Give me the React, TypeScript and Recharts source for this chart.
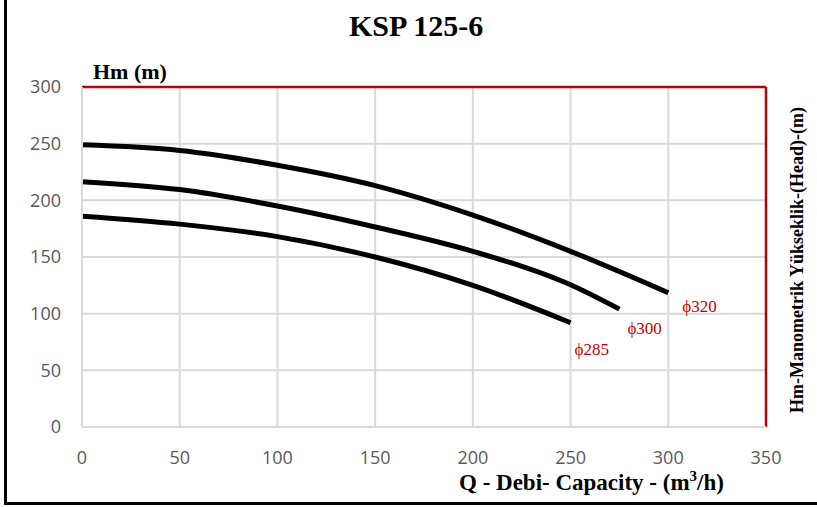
import {
  CartesianGrid,
  Line,
  LineChart,
  ReferenceLine,
  XAxis,
  YAxis,
} from "recharts";

const Q_TICKS = [0, 50, 100, 150, 200, 250, 300, 350];
const H_TICKS = [0, 50, 100, 150, 200, 250, 300];

const CURVE_320 = [
  { q: 0, h: 249 },
  { q: 50, h: 244 },
  { q: 100, h: 231 },
  { q: 150, h: 213 },
  { q: 200, h: 187 },
  { q: 250, h: 155 },
  { q: 300, h: 118.5 },
];
const CURVE_300 = [
  { q: 0, h: 216.5 },
  { q: 50, h: 209.5 },
  { q: 100, h: 195 },
  { q: 150, h: 176.5 },
  { q: 200, h: 155 },
  { q: 250, h: 125.5 },
  { q: 275, h: 104 },
];
const CURVE_285 = [
  { q: 0, h: 186 },
  { q: 50, h: 179 },
  { q: 100, h: 168 },
  { q: 150, h: 150 },
  { q: 200, h: 125 },
  { q: 250, h: 92 },
];

const SERIES = [
  { name: "ϕ320", data: CURVE_320, dx: 14, dy: 19 },
  { name: "ϕ300", data: CURVE_300, dx: 8, dy: 25 },
  { name: "ϕ285", data: CURVE_285, dx: 4, dy: 32 },
];

const RED = "#c00000";
const GRID = "#d9d9d9";
const TICK = { fontSize: 18, fill: "#595959", fontFamily: "Open Sans, sans-serif" };
const SERIF = "'Liberation Serif', 'Times New Roman', serif";

function endLabel(name: string, count: number, dx: number, dy: number) {
  return (props: any) => {
    if (props.index !== count - 1) return null;
    return (
      <text x={props.x + dx} y={props.y + dy} fill={RED} fontSize={17} fontFamily={SERIF}>
        {name}
      </text>
    );
  };
}

export default function App() {
  return (
    <div style={{ position: "fixed", left: 0, top: 0, width: 817, height: 507, background: "#fff" }}>
      <LineChart width={817} height={507} margin={{ top: 87, right: 51, bottom: 40, left: 22 }}>
        <CartesianGrid stroke={GRID} strokeWidth={2} />
        <XAxis
          type="number"
          dataKey="q"
          domain={[0, 350]}
          ticks={Q_TICKS}
          allowDataOverflow
          tick={TICK}
          tickLine={false}
          axisLine={{ stroke: GRID, strokeWidth: 2 }}
          tickMargin={18}
          height={40}
        />
        <YAxis
          type="number"
          dataKey="h"
          domain={[0, 300]}
          ticks={H_TICKS}
          allowDataOverflow
          tick={TICK}
          tickLine={false}
          axisLine={{ stroke: GRID, strokeWidth: 2 }}
          tickMargin={15}
          width={60}
        />
        <ReferenceLine y={300} stroke={RED} strokeWidth={2.5} />
        <ReferenceLine x={350} stroke={RED} strokeWidth={2.5} />
        {SERIES.map((s) => (
          <Line
            key={s.name}
            data={s.data}
            dataKey="h"
            type="monotone"
            stroke="#000"
            strokeWidth={5}
            dot={false}
            isAnimationActive={false}
            label={endLabel(s.name, s.data.length, s.dx, s.dy)}
          />
        ))}
      </LineChart>
      <div
        style={{
          position: "absolute",
          left: 349,
          top: 9,
          fontFamily: SERIF,
          fontWeight: "bold",
          fontSize: 30,
          whiteSpace: "nowrap",
        }}
      >
        KSP 125-6
      </div>
      <div
        style={{ position: "absolute", left: 93, top: 59, fontFamily: SERIF, fontWeight: "bold", fontSize: 22, whiteSpace: "nowrap" }}
      >
        Hm (m)
      </div>
      <div
        style={{ position: "absolute", left: 459, top: 470, fontFamily: SERIF, fontWeight: "bold", fontSize: 23, lineHeight: "26px", whiteSpace: "nowrap" }}
      >
        Q - Debi- Capacity - (m<sup style={{ fontSize: 15, lineHeight: 0 }}>3</sup>/h)
      </div>
      <div
        style={{
          position: "absolute",
          left: 797,
          top: 260,
          transform: "translate(-50%, -50%) rotate(-90deg)",
          whiteSpace: "nowrap",
          fontFamily: SERIF,
          fontWeight: "bold",
          fontSize: 18,
        }}
      >
        Hm-Manometrik Yükseklik-(Head)-(m)
      </div>
      <div style={{ position: "absolute", left: 4, top: 0, width: 2.5, height: 504, background: "#000" }} />
      <div style={{ position: "absolute", left: 4, top: 502, right: 0, height: 2.5, background: "#000" }} />
    </div>
  );
}
